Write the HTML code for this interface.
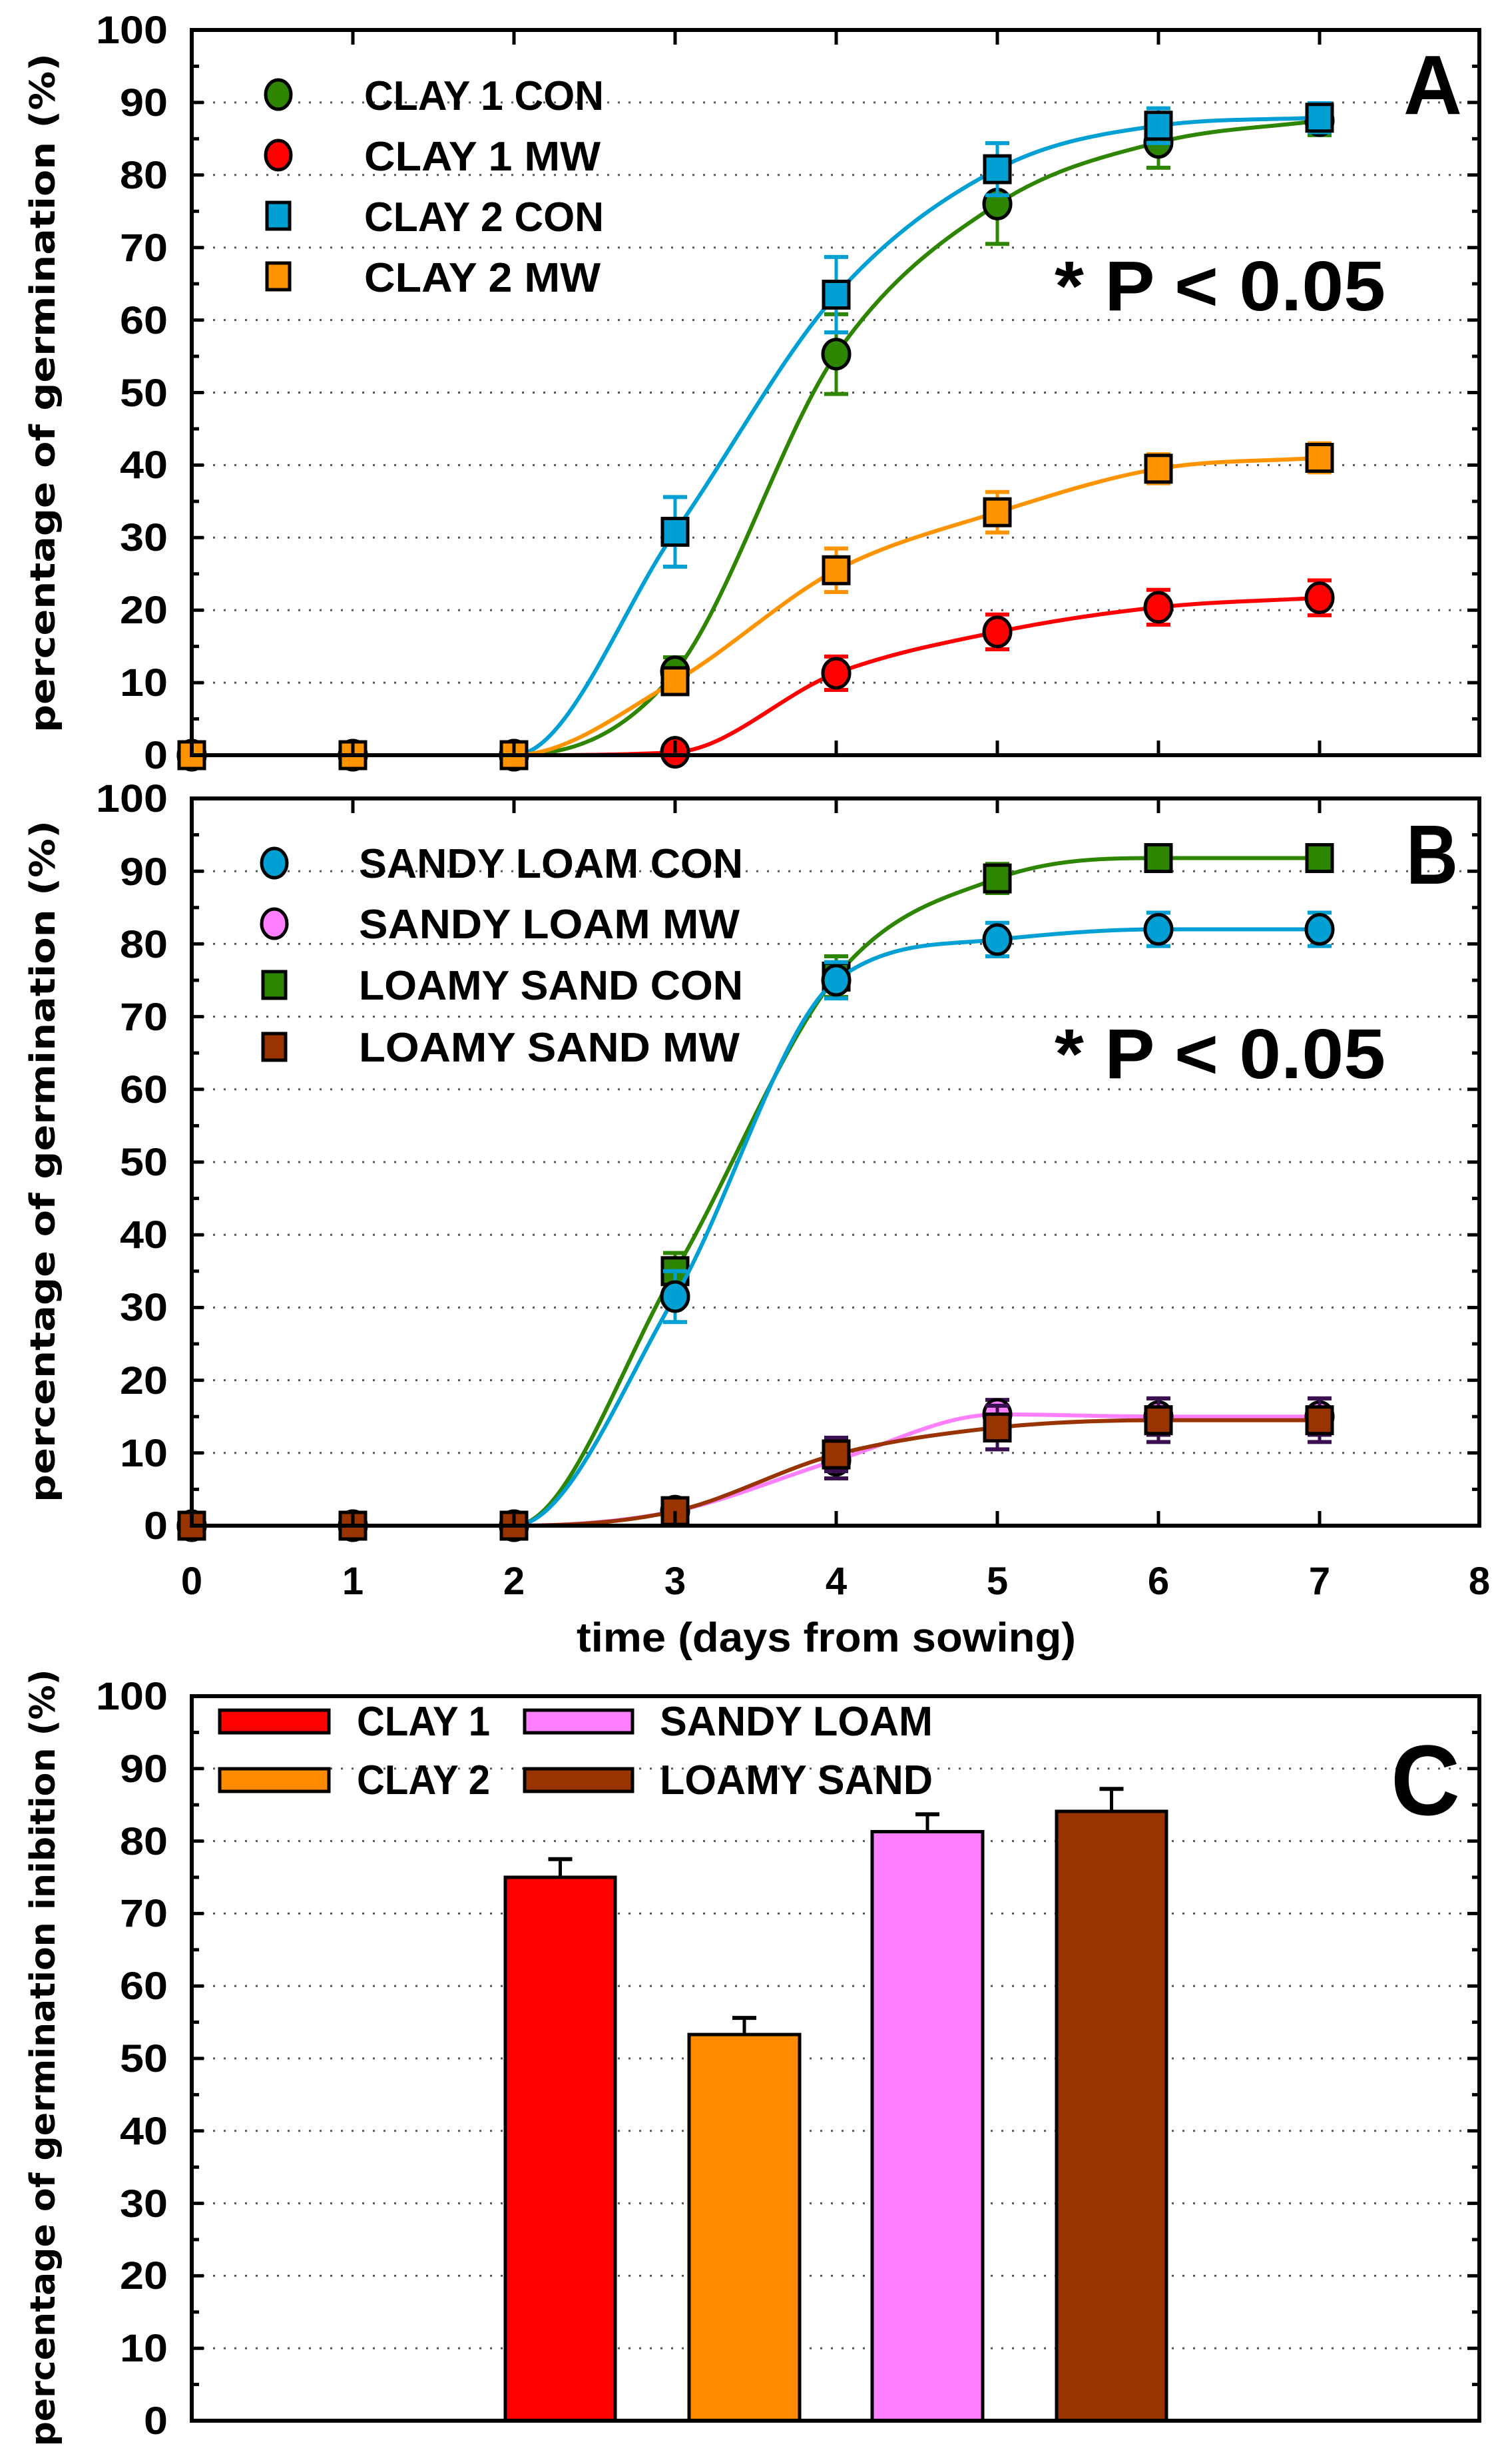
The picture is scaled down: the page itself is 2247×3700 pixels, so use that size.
<!DOCTYPE html>
<html><head><meta charset="utf-8"><style>
html,body{margin:0;padding:0;background:#fff}
svg{display:block}
.t{font-family:"Liberation Sans",sans-serif;font-weight:bold;fill:#000}
.yl{font-family:"DejaVu Sans",sans-serif;font-weight:bold;fill:#000;font-size:52px}
</style></head><body>
<svg id="s" width="2247" height="3700" viewBox="0 0 2247 3700" xmlns="http://www.w3.org/2000/svg">
<g id="grid"></g>
<g id="series"></g>
<g id="axes"></g>
<!-- Panel A text -->
<g class="t" font-size="58" text-anchor="end">
<text x="252" y="65" textLength="108" lengthAdjust="spacingAndGlyphs">100</text>
<text x="252" y="174" textLength="72" lengthAdjust="spacingAndGlyphs">90</text>
<text x="252" y="283" textLength="72" lengthAdjust="spacingAndGlyphs">80</text>
<text x="252" y="392" textLength="72" lengthAdjust="spacingAndGlyphs">70</text>
<text x="252" y="501" textLength="72" lengthAdjust="spacingAndGlyphs">60</text>
<text x="252" y="610" textLength="72" lengthAdjust="spacingAndGlyphs">50</text>
<text x="252" y="718" textLength="72" lengthAdjust="spacingAndGlyphs">40</text>
<text x="252" y="827" textLength="72" lengthAdjust="spacingAndGlyphs">30</text>
<text x="252" y="936" textLength="72" lengthAdjust="spacingAndGlyphs">20</text>
<text x="252" y="1045" textLength="72" lengthAdjust="spacingAndGlyphs">10</text>
<text x="252" y="1154" textLength="36" lengthAdjust="spacingAndGlyphs">0</text>
</g>
<text class="yl" transform="translate(82,590) rotate(-90)" text-anchor="middle" textLength="1020" lengthAdjust="spacingAndGlyphs">percentage of germination (%)</text>
<g class="t" font-size="62">
<text x="547" y="165" textLength="360" lengthAdjust="spacingAndGlyphs">CLAY 1 CON</text>
<text x="547" y="256" textLength="355" lengthAdjust="spacingAndGlyphs">CLAY 1 MW</text>
<text x="547" y="347" textLength="360" lengthAdjust="spacingAndGlyphs">CLAY 2 CON</text>
<text x="547" y="438" textLength="355" lengthAdjust="spacingAndGlyphs">CLAY 2 MW</text>
</g>
<text class="t" x="1584" y="466" font-size="106" textLength="497" lengthAdjust="spacingAndGlyphs">* P &lt; 0.05</text>
<text class="t" x="2108" y="171" font-size="126" textLength="88" lengthAdjust="spacingAndGlyphs">A</text>
<!-- Panel B text -->
<g class="t" font-size="58" text-anchor="end">
<text x="252" y="1219" textLength="108" lengthAdjust="spacingAndGlyphs">100</text>
<text x="252" y="1329" textLength="72" lengthAdjust="spacingAndGlyphs">90</text>
<text x="252" y="1438" textLength="72" lengthAdjust="spacingAndGlyphs">80</text>
<text x="252" y="1547" textLength="72" lengthAdjust="spacingAndGlyphs">70</text>
<text x="252" y="1656" textLength="72" lengthAdjust="spacingAndGlyphs">60</text>
<text x="252" y="1765" textLength="72" lengthAdjust="spacingAndGlyphs">50</text>
<text x="252" y="1874" textLength="72" lengthAdjust="spacingAndGlyphs">40</text>
<text x="252" y="1983" textLength="72" lengthAdjust="spacingAndGlyphs">30</text>
<text x="252" y="2093" textLength="72" lengthAdjust="spacingAndGlyphs">20</text>
<text x="252" y="2202" textLength="72" lengthAdjust="spacingAndGlyphs">10</text>
<text x="252" y="2311" textLength="36" lengthAdjust="spacingAndGlyphs">0</text>
</g>
<g class="t" font-size="58" text-anchor="middle">
<text x="288" y="2394">0</text><text x="530" y="2394">1</text><text x="772" y="2394">2</text>
<text x="1014" y="2394">3</text><text x="1256" y="2394">4</text><text x="1498" y="2394">5</text>
<text x="1740" y="2394">6</text><text x="1982" y="2394">7</text><text x="2222" y="2394">8</text>
</g>
<text class="t" x="1241" y="2480" font-size="62" text-anchor="middle" textLength="750" lengthAdjust="spacingAndGlyphs">time (days from sowing)</text>
<text class="yl" transform="translate(82,1744) rotate(-90)" text-anchor="middle" textLength="1024" lengthAdjust="spacingAndGlyphs">percentage of germination (%)</text>
<g class="t" font-size="62">
<text x="539" y="1318" textLength="577" lengthAdjust="spacingAndGlyphs">SANDY LOAM CON</text>
<text x="539" y="1409" textLength="572" lengthAdjust="spacingAndGlyphs">SANDY LOAM MW</text>
<text x="539" y="1501" textLength="577" lengthAdjust="spacingAndGlyphs">LOAMY SAND CON</text>
<text x="539" y="1594" textLength="572" lengthAdjust="spacingAndGlyphs">LOAMY SAND MW</text>
</g>
<text class="t" x="1584" y="1619" font-size="106" textLength="497" lengthAdjust="spacingAndGlyphs">* P &lt; 0.05</text>
<text class="t" x="2112" y="1327" font-size="126" textLength="78" lengthAdjust="spacingAndGlyphs">B</text>
<!-- Panel C text -->
<g class="t" font-size="58" text-anchor="end">
<text x="252" y="2567" textLength="108" lengthAdjust="spacingAndGlyphs">100</text>
<text x="252" y="2676" textLength="72" lengthAdjust="spacingAndGlyphs">90</text>
<text x="252" y="2785" textLength="72" lengthAdjust="spacingAndGlyphs">80</text>
<text x="252" y="2893" textLength="72" lengthAdjust="spacingAndGlyphs">70</text>
<text x="252" y="3002" textLength="72" lengthAdjust="spacingAndGlyphs">60</text>
<text x="252" y="3111" textLength="72" lengthAdjust="spacingAndGlyphs">50</text>
<text x="252" y="3220" textLength="72" lengthAdjust="spacingAndGlyphs">40</text>
<text x="252" y="3329" textLength="72" lengthAdjust="spacingAndGlyphs">30</text>
<text x="252" y="3437" textLength="72" lengthAdjust="spacingAndGlyphs">20</text>
<text x="252" y="3546" textLength="72" lengthAdjust="spacingAndGlyphs">10</text>
<text x="252" y="3655" textLength="36" lengthAdjust="spacingAndGlyphs">0</text>
</g>
<text class="yl" transform="translate(82,3090) rotate(-90)" text-anchor="middle" textLength="1167" lengthAdjust="spacingAndGlyphs">percentage of germination inibition (%)</text>
<g stroke="#000" stroke-width="5">
<rect x="330" y="2568" width="164" height="34" fill="#ff0000"/>
<rect x="330" y="2656" width="164" height="34" fill="#ff8c00"/>
<rect x="788" y="2568" width="162" height="34" fill="#ff80ff"/>
<rect x="788" y="2656" width="162" height="34" fill="#993300"/>
</g>
<g class="t" font-size="62">
<text x="536" y="2606" textLength="200" lengthAdjust="spacingAndGlyphs">CLAY 1</text>
<text x="536" y="2694" textLength="200" lengthAdjust="spacingAndGlyphs">CLAY 2</text>
<text x="991" y="2606" textLength="410" lengthAdjust="spacingAndGlyphs">SANDY LOAM</text>
<text x="991" y="2694" textLength="410" lengthAdjust="spacingAndGlyphs">LOAMY SAND</text>
</g>
<text class="t" x="2089" y="2725" font-size="150" textLength="104" lengthAdjust="spacingAndGlyphs">C</text>
</svg>
<script>
var NS="http://www.w3.org/2000/svg";
function el(p,t,a){var e=document.createElementNS(NS,t);for(var k in a)e.setAttribute(k,a[k]);document.getElementById(p).appendChild(e);return e;}
var L=288,R=2222;
var panels=[{top:45,bot:1134},{top:1199,bot:2291},{top:2547,bot:3635}];
function X(d){return L+242*d;}
panels.forEach(function(p,i){
  var h=(p.bot-p.top)/100;
  for(var v=10;v<100;v+=10){var y=p.bot-v*h;el("grid","line",{x1:L,x2:R,y1:y,y2:y,stroke:"#555","stroke-width":3,"stroke-dasharray":"3 13"});}
  el("axes","rect",{x:L,y:p.top,width:R-L,height:p.bot-p.top,fill:"none",stroke:"#000","stroke-width":6});
  for(var v=5;v<100;v+=5){var y=p.bot-v*h;var len=(v%10==0)?18:11;
    el("axes","line",{x1:L,x2:L+len,y1:y,y2:y,stroke:"#000","stroke-width":5});
    el("axes","line",{x1:R,x2:R-len,y1:y,y2:y,stroke:"#000","stroke-width":5});}
  if(i<2){for(var d=1;d<8;d++){var x=X(d);
    el("axes","line",{x1:x,x2:x,y1:p.top,y2:p.top+22,stroke:"#000","stroke-width":5});
    el("axes","line",{x1:x,x2:x,y1:p.bot,y2:p.bot-22,stroke:"#000","stroke-width":5});}}
});
function mono(xs,ys){var n=xs.length,dl=[],m=[];
  for(var i=0;i<n-1;i++)dl.push((ys[i+1]-ys[i])/(xs[i+1]-xs[i]));
  m[0]=dl[0];m[n-1]=dl[n-2];
  for(var i=1;i<n-1;i++){m[i]=(dl[i-1]*dl[i]<=0)?0:(dl[i-1]+dl[i])/2;}
  for(var i=0;i<n-1;i++){if(dl[i]==0){m[i]=0;m[i+1]=0;continue;}var a=m[i]/dl[i],b=m[i+1]/dl[i],s=a*a+b*b;if(s>9){var t=3/Math.sqrt(s);m[i]=t*a*dl[i];m[i+1]=t*b*dl[i];}}
  var d="M"+xs[0]+","+ys[0];
  for(var i=0;i<n-1;i++){var hh=(xs[i+1]-xs[i])/3;d+=" C"+(xs[i]+hh)+","+(ys[i]+m[i]*hh)+" "+(xs[i+1]-hh)+","+(ys[i+1]-m[i+1]*hh)+" "+xs[i+1]+","+ys[i+1];}
  return d;}
function series(pi,col,ecol,shape,vals,errs,curve){
  var p=panels[pi],h=(p.bot-p.top)/100;
  var xs=[],ys=[];vals.forEach(function(v,d){xs.push(X(d));ys.push(p.bot-v*h);});
  el("series","path",{d:mono(curve?curve.x.map(X):xs,curve?curve.y.map(function(v){return p.bot-v*h}):ys),fill:"none",stroke:col,"stroke-width":6});
  vals.forEach(function(v,d){var e=errs[d];if(!e)return;var x=X(d);var y1=p.bot-(v+e)*h,y2=p.bot-(v-e)*h;
    el("series","line",{x1:x,x2:x,y1:y1,y2:y2,stroke:ecol,"stroke-width":5});
    el("series","line",{x1:x-18,x2:x+18,y1:y1,y2:y1,stroke:ecol,"stroke-width":6});
    el("series","line",{x1:x-18,x2:x+18,y1:y2,y2:y2,stroke:ecol,"stroke-width":6});});
  vals.forEach(function(v,d){var x=X(d),y=p.bot-v*h;
    if(shape=="c")el("series","ellipse",{cx:x,cy:y,rx:20,ry:22,fill:col,stroke:"#000","stroke-width":5});
    else el("series","rect",{x:x-19,y:y-20,width:38,height:40,fill:col,stroke:"#000","stroke-width":5});});
}
var G="#2e8500",Bl="#009fd4",Rd="#ff0000",Or="#ff9400",Pk="#ff80ff",Br="#993300";
// Panel A
series(0,G,G,"c",[0,0,0,11.5,55.3,76,84.5,87.5],[0,0,0,2,5.5,5.5,3.5,2]);
series(0,Rd,Rd,"c",[0,0,0,0.4,11.3,17,20.4,21.7],[0,0,0,0,2.3,2.4,2.4,2.4]);
series(0,Bl,Bl,"s",[0,0,0,30.8,63.5,80.8,86.8,87.9],[0,0,0,4.8,5.2,3.6,2.4,2]);
series(0,Or,Or,"s",[0,0,0,10.2,25.5,33.5,39.5,41],[0,0,0,1.5,3,2.8,2,2]);
// Panel B
series(1,G,G,"s",[0,0,0,35,75.5,89,91.8,91.8],[0,0,0,2.5,2.8,2,1.5,1.5]);
series(1,Bl,Bl,"c",[0,0,0,31.5,75,80.6,82,82],[0,0,0,3.5,2.5,2.3,2.3,2.3]);
series(1,Pk,"#3a1050","c",[0,0,0,2,9,15.3,15,15],[0,0,0,0.5,2.5,2,2.5,2.5]);
series(1,Br,"#3a1050","s",[0,0,0,2,9.8,13.5,14.5,14.5],[0,0,0,0.5,2.3,3,3,3]);
// Legends A/B markers
[[142,G,"c"],[233,Rd,"c"],[324,Bl,"s"],[415,Or,"s"],[1296,Bl,"c"],[1387,Pk,"c"],[1479,G,"s"],[1572,Br,"s"]].forEach(function(m){
  var x=m[1]==undefined?0:(m[0]<1000?418:412),y=m[0];
  if(m[2]=="c")el("series","ellipse",{cx:x,cy:y,rx:19,ry:22,fill:m[1],stroke:"#000","stroke-width":5});
  else el("series","rect",{x:x-17,y:y-20,width:34,height:40,fill:m[1],stroke:"#000","stroke-width":5});});
// Panel C bars
var pc=panels[2],hc=(pc.bot-pc.top)/100;
[[759,924,"#ff0000",75,77.5],[1035,1201,"#ff8c00",53.3,55.6],[1310,1476,"#ff80ff",81.3,83.7],[1587,1752,"#993300",84.1,87.2]].forEach(function(b){
  var c=(b[0]+b[1])/2,yt=pc.bot-b[3]*hc,ye=pc.bot-b[4]*hc;
  el("series","line",{x1:c,x2:c,y1:yt,y2:ye,stroke:"#000","stroke-width":5});
  el("series","line",{x1:c-18,x2:c+18,y1:ye,y2:ye,stroke:"#000","stroke-width":6});
  el("series","rect",{x:b[0],y:yt,width:b[1]-b[0],height:pc.bot-yt,fill:b[2],stroke:"#000","stroke-width":5});});
</script>
</body></html>
